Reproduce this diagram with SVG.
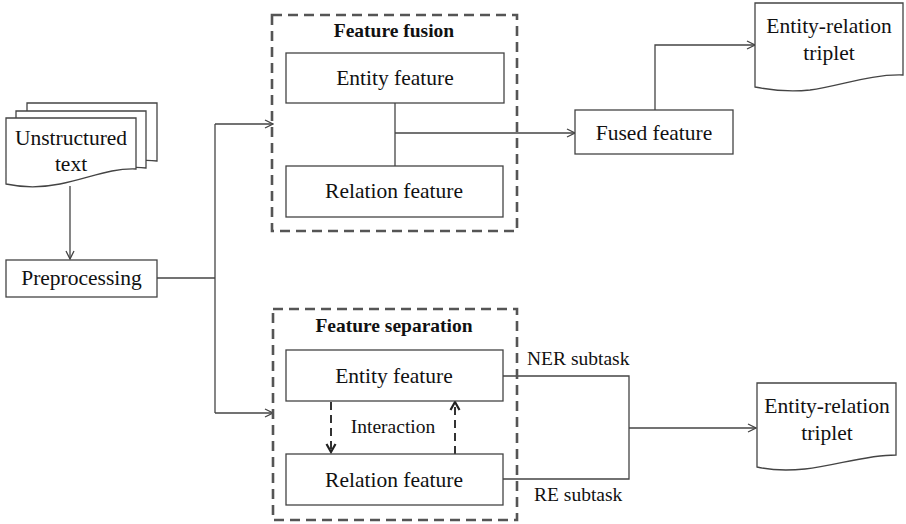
<svg xmlns="http://www.w3.org/2000/svg" width="906" height="524" viewBox="0 0 906 524">
<style>
.box{fill:#fff;stroke:#444;stroke-width:1.3}
.grp{fill:none;stroke:#555;stroke-width:2.6;stroke-dasharray:10 6}
.t{font-family:"Liberation Serif","Times New Roman",serif;font-size:21.5px;fill:#111;text-anchor:middle}
.s{font-family:"Liberation Serif","Times New Roman",serif;font-size:19.5px;fill:#111}
.b{font-family:"Liberation Serif","Times New Roman",serif;font-size:19.5px;font-weight:bold;fill:#111;text-anchor:middle}
.ln{fill:none;stroke:#444;stroke-width:1.3}
.dl{fill:none;stroke:#333;stroke-width:2;stroke-dasharray:8 5}
</style>
<defs>
<marker id="a" markerWidth="10" markerHeight="10" refX="9" refY="5" orient="auto" markerUnits="userSpaceOnUse">
<path d="M1,1 L9,5 L1,9" fill="none" stroke="#444" stroke-width="1.3"/>
</marker>
<marker id="d" markerWidth="12" markerHeight="12" refX="10" refY="6" orient="auto" markerUnits="userSpaceOnUse">
<path d="M2,1.5 L10,6 L2,10.5" fill="none" stroke="#222" stroke-width="2.2"/>
</marker>
</defs>

<g id="connectors">
<path class="ln" d="M70,186 V259" marker-end="url(#a)"/>
<path class="ln" d="M157,278 H215"/>
<path class="ln" d="M215,124 V413"/>
<path class="ln" d="M215,124 H273" marker-end="url(#a)"/>
<path class="ln" d="M215,413 H273" marker-end="url(#a)"/>
<path class="ln" d="M395,103 V166"/>
<path class="ln" d="M395,133 H575" stroke-width="2" marker-end="url(#a)"/>
<path class="ln" d="M655,110 V45 H755" marker-end="url(#a)"/>
<path class="ln" d="M503,376 H629 V479 H503"/>
<path class="ln" d="M629,428 H756" marker-end="url(#a)"/>
<path class="dl" d="M331,402 V452" marker-end="url(#d)"/>
<path class="dl" d="M455,454 V402" marker-end="url(#d)"/>
</g>

<g id="unstructured-text">
<path class="box" d="M27,103 H157 V161 C130,158 110,168 90,168 V140 H27 Z"/>
<path class="box" d="M16,111 H146 V168 C120,165 100,175 80,175 V150 H16 Z"/>
<path class="box" d="M6,118 H136 V169 C110,168 90,178 60,184 C40,188 20,187 6,184 Z"/>
<text class="t" x="71" y="145">Unstructured</text>
<text class="t" x="71" y="171">text</text>
</g>

<g id="preprocessing">
<rect class="box" x="6" y="260" width="151" height="37"/>
<text class="t" x="81.500" y="285">Preprocessing</text>
</g>

<g id="feature-fusion">
<rect class="grp" x="272" y="15" width="245" height="216"/>
<text class="b" x="394" y="37">Feature fusion</text>
</g>
<g id="fusion-entity">
<rect class="box" x="286" y="53" width="218" height="50"/>
<text class="t" x="395" y="85">Entity feature</text>
</g>
<g id="fusion-relation">
<rect class="box" x="286" y="166" width="217" height="51"/>
<text class="t" x="394" y="198">Relation feature</text>
</g>

<g id="fused-feature">
<rect class="box" x="575" y="110" width="158" height="44"/>
<text class="t" x="654" y="140">Fused feature</text>
</g>

<g id="triplet-top">
<path class="box" d="M755,3 H903 V75 C870,74 840,86 810,90 C790,92 770,90 755,87 Z"/>
<text class="t" x="829" y="33">Entity-relation</text>
<text class="t" x="829" y="60">triplet</text>
</g>

<g id="feature-separation">
<rect class="grp" x="273" y="309" width="244" height="211"/>
<text class="b" x="394" y="332">Feature separation</text>
<text class="s" x="393" y="433" text-anchor="middle">Interaction</text>
</g>
<g id="sep-entity">
<rect class="box" x="286" y="350" width="217" height="51"/>
<text class="t" x="394" y="383">Entity feature</text>
</g>
<g id="sep-relation">
<rect class="box" x="286" y="454" width="217" height="51"/>
<text class="t" x="394" y="487">Relation feature</text>
</g>

<text class="s" x="527" y="365">NER subtask</text>
<text class="s" x="534" y="501">RE subtask</text>

<g id="triplet-bottom">
<path class="box" d="M757,383 H896 V455 C865,455 835,466 805,469 C785,471 770,470 757,467 Z"/>
<text class="t" x="827" y="413">Entity-relation</text>
<text class="t" x="827" y="440">triplet</text>
</g>
</svg>
